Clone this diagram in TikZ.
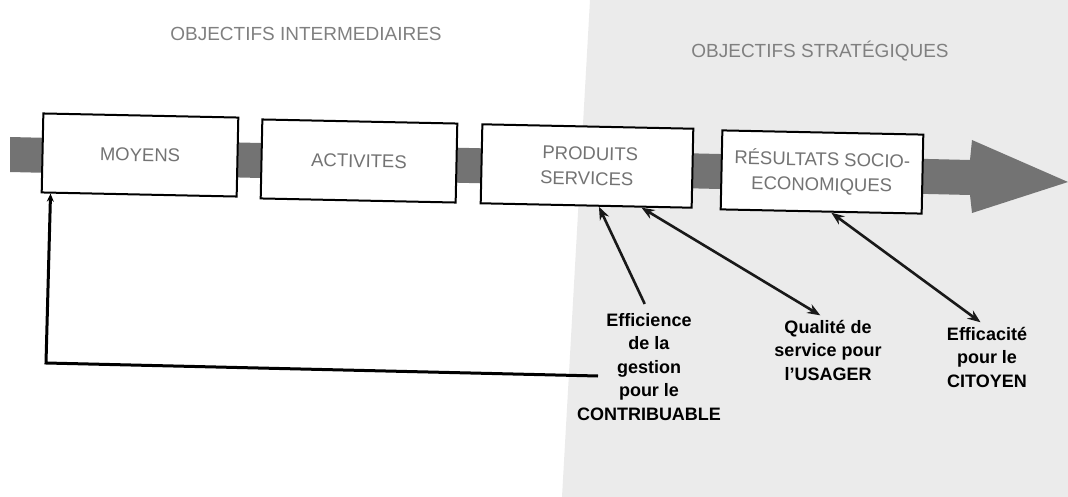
\documentclass[tikz,border=0pt]{standalone}
\usepackage{fontspec}
\setmainfont{Liberation Sans}
\usetikzlibrary{arrows.meta,calc}
\tikzset{
  stagebox/.style={draw=black, line width=2pt, fill=white, rotate=-1.2,
    minimum height=79pt, inner sep=0pt, align=center,
    font=\fontsize{18.5}{25}\selectfont, text=black!55},
  titletext/.style={font=\fontsize{19}{23}\selectfont, text=black!50, inner sep=0pt},
  labeltext/.style={font=\fontsize{18}{23.5}\selectfont\bfseries, align=center, inner sep=0pt, text=black},
  band/.style={fill=black!55, draw=none},
  link/.style={line width=2.6pt, draw=black!90},
  tipbig/.tip={Stealth[length=13pt,width=10pt]},
}
\begin{document}
\begin{tikzpicture}[x=1pt,y=-1pt]
\useasboundingbox (0,0) rectangle (1068,497);
% shaded area of strategic objectives
\fill[black!8] (590,0) -- (1068,0) -- (1068,497) -- (562,497) -- cycle;
% titles
\node[titletext] (t1) at (306,34) {OBJECTIFS INTERMEDIAIRES};
\node[titletext] (t2) at (820,51) {OBJECTIFS STRATÉGIQUES};
% main grey band with arrow head
\fill[band] (10,137) -- (970,160) -- (972,140) -- (1068,182) -- (972,213) -- (970,195) -- (10,172) -- cycle;
% stages
\node[stagebox, minimum width=195pt] (moy) at (140,155) {MOYENS};
\node[stagebox, minimum width=195pt] (act) at (359,161) {ACTIVITES};
\node[stagebox, minimum width=211pt] (prod) at (587,166) {\hspace*{6pt}PRODUITS\\SERVICES};
\node[stagebox, minimum width=201pt] (res) at (822,172) {RÉSULTATS SOCIO-\\ECONOMIQUES};
% labels
\node[labeltext, anchor=north] (lab1) at (649,313) {Efficience\\de la\\gestion\\pour le\\CONTRIBUABLE};
\node[labeltext, anchor=north] (lab2) at (828,320) {Qualité de\\service pour\\l'USAGER};
\node[labeltext, anchor=north] (lab3) at (987,327) {Efficacité\\pour le\\CITOYEN};
% connectors
\draw[link, tipbig-, shorten >=10pt] ($(prod.south west)!0.56!(prod.south east)$) -- (lab1.north);
\draw[link, tipbig-tipbig, shorten >=9pt] ($(prod.south west)!0.76!(prod.south east)$) -- (lab2.north);
\draw[link, tipbig-tipbig, shorten >=8pt] ($(res.south west)!0.55!(res.south east)$) -- (lab3.north);
% feedback loop
\coordinate (fb0) at (598,376);
\coordinate (fb1) at (46,363);
\draw[line width=3pt, -{Stealth[length=8pt,width=7pt]}] (fb0) -- (fb1) -- ($(moy.south west)!0.05!(moy.south east)$);
\end{tikzpicture}
\end{document}
